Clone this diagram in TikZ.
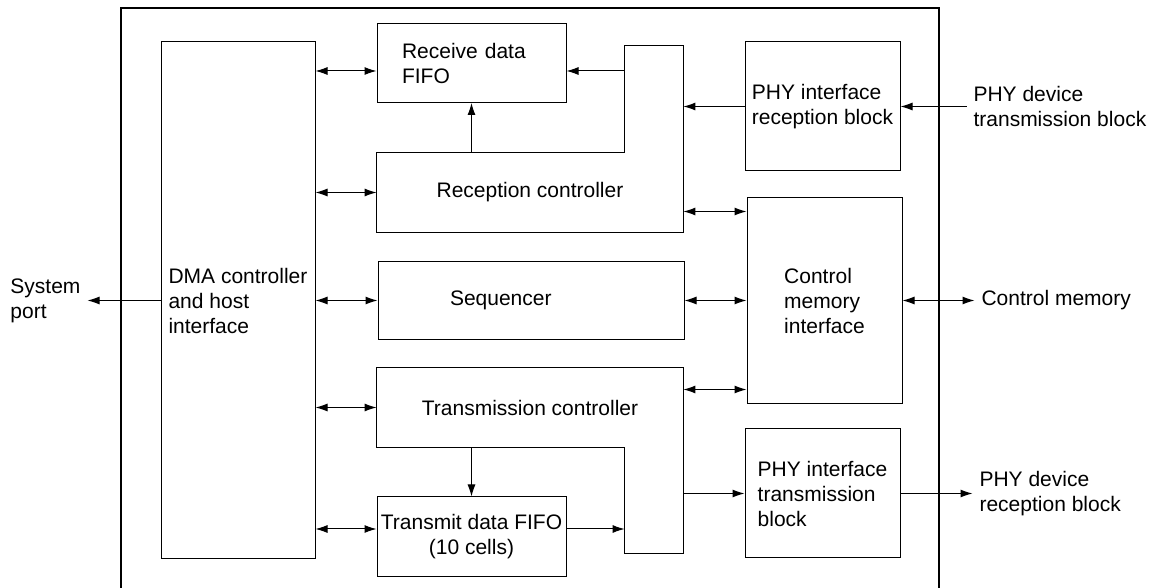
\documentclass[tikz,border=0pt]{standalone}
\usepackage{fontspec}
\setmainfont{Liberation Sans}
\usepackage{tikz}
\usetikzlibrary{positioning,arrows.meta}

\begin{document}
\begin{tikzpicture}[
    % one unit is one pixel of the layout
    x = 0.5pt, y = -0.5pt,
    font = \fontsize{10.5}{12.5}\selectfont,
    blk/.style={rectangle, draw, line width=0.5pt, inner sep=0pt, align=left},
    part/.style={rectangle, inner sep=0pt},
    ext/.style={align=left},
    link/.style={{Latex[length=6pt,width=4pt]}-{Latex[length=6pt,width=4pt]}, line width=0.5pt},
    flow/.style={-{Latex[length=6pt,width=4pt]}, line width=0.5pt},
]
\useasboundingbox (0,0) rectangle (1153,588);

% Chip outline
\draw[line width=1.2pt] (121,600) -- (121,8) -- (939,8) -- (939,600);

% Main nodes
\node[blk, minimum width=77pt, minimum height=258.5pt] (dma) at (238,300.5) {DMA controller\\and host\\interface};
\node[blk, minimum width=94.5pt, minimum height=39.5pt, text width=69.5pt] (rxfifo) at (471.5,63) {Receive data\\FIFO};
\node[blk, right=31pt of dma, minimum width=153pt, minimum height=39pt, text width=81pt] (seq) {Sequencer};
\node[blk, right=31pt of seq, minimum width=77.5pt, minimum height=103pt] (cmi) {Control\\memory\\interface};
\node[blk, minimum width=77.5pt, minimum height=64.5pt] (phyrx) at (822.5,106.5) {PHY interface\\reception block};
\node[blk, minimum width=77.5pt, minimum height=64.5pt] (phytx) at (822.5,493.5) {PHY interface\\transmission\\block};
\node[blk, minimum width=94.5pt, minimum height=40pt, align=center] (txfifo) at (471.5,537) {Transmit data FIFO\\(10 cells)};

% L-shaped controllers
\node[part, minimum width=153pt, minimum height=39.5pt] (rxctl) at (530,192.5) {Reception controller};
\node[part, minimum width=29pt, minimum height=93pt] (rxup) at (654,139) {};
\node[part, minimum width=153pt, minimum height=39.5pt] (txctl) at (530,407.5) {Transmission controller};
\node[part, minimum width=29pt, minimum height=92.5pt] (txup) at (654,460.5) {};

\draw[line width=0.5pt] (rxctl.south west) |- (rxctl.north -| rxup.west) |- (rxup.north east) -- (rxctl.south east) -- cycle;
\draw[line width=0.5pt] (txctl.north west) -- (txup.north east) |- (txup.south west) |- (txctl.south west) -- cycle;

% Outside connections
\node[ext, right=33pt of phyrx] (phydevtx) {PHY device\\transmission block};
\node[ext, right=36pt of cmi] (ctlmem) {Control memory};
\node[ext, right=36pt of phytx] (phydevrx) {PHY device\\reception block};
\node[ext, left=36.5pt of dma] (sysport) {System\\port};

\coordinate (rxfifoL) at ([yshift=-4pt]rxfifo.west);
\coordinate (rxfifoR) at ([yshift=-4pt]rxfifo.east);
\coordinate (txfifoL) at ([yshift=4pt]txfifo.west);
\coordinate (txfifoR) at ([yshift=4pt]txfifo.east);
\coordinate (cmiA) at ([yshift=-7.25pt]cmi.north west);
\coordinate (cmiB) at ([yshift=7.25pt]cmi.south west);

% Arrows, host side
\draw[flow] (dma.west) -- (sysport.east);
\draw[link] (dma.east |- rxfifoL) -- (rxfifoL);
\draw[link] (dma.east |- rxctl.west) -- (rxctl.west);
\draw[link] (dma.east |- seq.west) -- (seq.west);
\draw[link] (dma.east |- txctl.west) -- (txctl.west);
\draw[link] (dma.east |- txfifoL) -- (txfifoL);

% Arrows, receive path
\draw[flow] (phydevtx.west) -- (phyrx.east);
\draw[flow] (phyrx.west) -- (rxup.east |- phyrx.west);
\draw[flow] (rxup.west |- rxfifoR) -- (rxfifoR);
\draw[flow] (rxctl.north -| rxfifo.south) -- (rxfifo.south);

% Arrows, control memory
\draw[link] (rxctl.east |- cmiA) -- (cmiA);
\draw[link] (seq.east) -- (cmi.west);
\draw[link] (txctl.east |- cmiB) -- (cmiB);
\draw[link] (cmi.east) -- (ctlmem.west);

% Arrows, transmit path
\draw[flow] (txctl.south -| txfifo.north) -- (txfifo.north);
\draw[flow] (txfifoR) -- (txup.west |- txfifoR);
\draw[flow] (txup.east |- phytx.west) -- (phytx.west);
\draw[flow] (phytx.east) -- (phydevrx.west);

\end{tikzpicture}
\end{document}
